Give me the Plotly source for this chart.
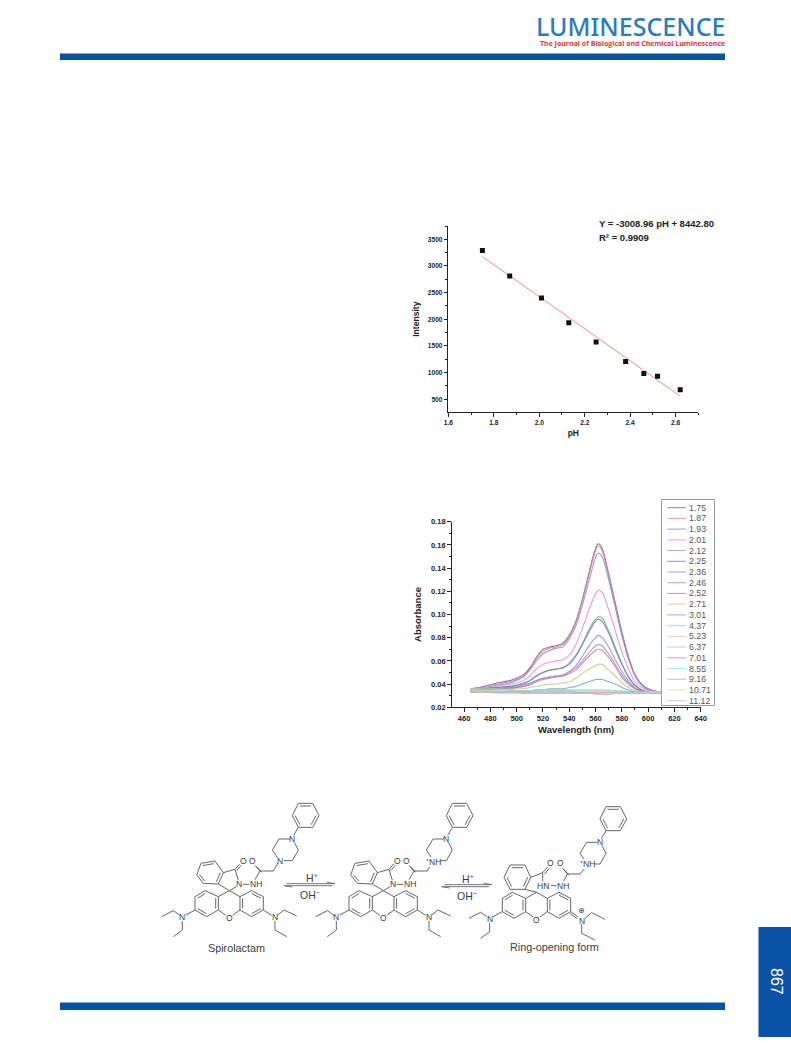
import plotly.graph_objects as go

W_PAGE, H_PAGE = 791, 1043

# ---------- calibration data ----------
ph = [1.75, 1.87, 2.01, 2.13, 2.25, 2.38, 2.46, 2.52, 2.62]
intensity = [3290, 2810, 2400, 1935, 1575, 1210, 985, 930, 680]
fit_ph = [1.75, 2.62]
fit_intensity = [3177, 559]

# ---------- absorption spectra ----------
wavelength = [465, 475, 485, 495, 500, 505, 510, 515, 520, 525, 530, 535, 540, 545, 550, 555, 560, 562, 565, 570, 575, 580, 585, 590, 595, 600, 610, 625]
a_175 = [.036,.038,.041,.043,.045,.048,.054,.063,.070,.072,.073,.075,.082,.094,.113,.136,.157,.161,.157,.135,.110,.085,.064,.048,.040,.036,.033,.032]
a_187 = [.035,.038,.040,.042,.044,.047,.053,.062,.068,.071,.072,.074,.081,.093,.112,.134,.155,.159,.155,.134,.109,.084,.063,.048,.040,.036,.033,.032]
a_193 = [.034,.037,.039,.041,.043,.046,.052,.060,.066,.069,.071,.072,.079,.090,.108,.129,.149,.153,.150,.130,.106,.082,.062,.047,.039,.035,.033,.032]
a_201 = [.034,.036,.038,.040,.041,.043,.047,.053,.057,.059,.060,.061,.065,.074,.088,.104,.118,.121,.119,.104,.086,.068,.053,.042,.037,.034,.032,.032]
a_212 = [.034,.036,.037,.038,.039,.041,.043,.047,.050,.052,.053,.054,.058,.065,.075,.087,.096,.098,.097,.086,.072,.058,.047,.039,.035,.033,.032,.032]
a_225 = [.035,.036,.037,.038,.039,.040,.043,.047,.050,.052,.053,.054,.057,.064,.074,.085,.094,.096,.094,.084,.070,.057,.046,.039,.035,.033,.032,.032]
a_236 = [.033,.035,.036,.037,.038,.039,.041,.043,.045,.046,.047,.048,.051,.056,.064,.073,.080,.082,.080,.072,.061,.051,.043,.037,.034,.033,.032,.032]
a_246 = [.034,.035,.036,.037,.037,.038,.040,.043,.045,.046,.047,.047,.050,.054,.060,.067,.073,.074,.073,.066,.057,.048,.041,.036,.034,.033,.032,.032]
a_252 = [.034,.035,.036,.036,.037,.038,.039,.042,.044,.045,.046,.047,.049,.052,.058,.064,.069,.070,.069,.063,.055,.046,.040,.036,.034,.033,.032,.032]
a_271 = [.035,.035,.035,.035,.036,.036,.037,.038,.039,.040,.040,.041,.042,.045,.049,.053,.056,.057,.057,.052,.047,.041,.037,.034,.033,.032,.032,.032]
a_301 = [.033,.033,.033,.034,.034,.034,.034,.035,.035,.036,.036,.036,.037,.038,.040,.042,.044,.044,.044,.042,.040,.037,.035,.033,.033,.032,.032,.032]
a_437 = [.034,.034,.034,.034,.034,.034,.034,.035,.035,.035,.035,.035,.035,.035,.035,.035,.035,.035,.035,.035,.034,.034,.034,.034,.033,.033,.033,.032]
a_523 = [.036,.035,.034,.033,.033,.033,.033,.033,.033,.033,.033,.033,.033,.033,.032,.032,.031,.031,.031,.031,.032,.032,.032,.032,.033,.033,.032,.032]
a_637 = [.036,.036,.036,.035,.034,.034,.034,.034,.035,.035,.035,.035,.034,.034,.034,.034,.034,.034,.034,.034,.034,.034,.033,.033,.033,.033,.033,.032]
a_701 = [.035,.034,.033,.033,.033,.033,.033,.033,.034,.034,.034,.034,.034,.033,.033,.033,.033,.033,.033,.033,.033,.033,.033,.033,.033,.033,.032,.032]
a_855 = [.034,.034,.034,.033,.033,.033,.033,.033,.034,.034,.034,.034,.034,.034,.034,.034,.034,.034,.034,.034,.034,.033,.033,.033,.033,.033,.033,.032]
a_916 = [.033,.033,.033,.033,.033,.033,.033,.033,.033,.033,.033,.033,.032,.032,.032,.032,.032,.032,.032,.032,.032,.032,.032,.032,.032,.032,.032,.032]
a_1071 = [.035,.033,.032,.032,.032,.032,.032,.032,.032,.032,.032,.032,.032,.032,.032,.032,.032,.032,.032,.032,.032,.032,.032,.032,.032,.033,.033,.032]
a_1112 = [.033,.033,.033,.033,.033,.032,.032,.032,.032,.032,.032,.032,.032,.032,.032,.032,.032,.032,.031,.031,.032,.032,.032,.032,.032,.032,.032,.032]
ph_labels = ["1.75","1.87","1.93","2.01","2.12","2.25","2.36","2.46","2.52","2.71","3.01","4.37","5.23","6.37","7.01","8.55","9.16","10.71","11.12"]
spectra = [a_175,a_187,a_193,a_201,a_212,a_225,a_236,a_246,a_252,a_271,a_301,a_437,a_523,a_637,a_701,a_855,a_916,a_1071,a_1112]
spec_colors = ["#6d6478","#e88484","#7f86e8","#ee84e0","#72b084","#6f80a8","#9a84f0","#b084c8","#c08484","#c8c888","#7ba0c8","#90d8e0","#e8c0a0","#90e0b0","#e08098","#a0e8e0","#b0a8d8","#e0e0a0","#c0b8d8"]

BLUE = "#0a52a5"
INK = "#222222"
SANS = "Liberation Sans"

X = lambda p: p / W_PAGE
Y = lambda p: 1 - p / H_PAGE
# structure sketch coordinates are in a 3x grid anchored at (140, 790)
ZX = lambda z: X(140 + z / 3)
ZY = lambda z: Y(790 + z / 3)

shapes, notes = [], []

def rect(x0, y0, x1, y1, color, line=None):
    shapes.append(dict(type="rect", xref="paper", yref="paper", x0=X(x0), x1=X(x1), y0=Y(y1), y1=Y(y0),
                       fillcolor=color, line=dict(color=line or color, width=1 if line else 0), layer="above"))

def note(x, y, text, size=9, color="#444444", weight=400, family=SANS, xanchor="center", angle=0, bg=None, height=None):
    d = dict(xref="paper", yref="paper", x=X(x), y=Y(y), text=text, showarrow=False, xanchor=xanchor,
             yanchor="middle", textangle=angle, borderpad=0, borderwidth=0,
             font=dict(family=family, size=size, color=color, weight=weight))
    if bg:
        d["bgcolor"] = bg
    if height:
        d["height"] = height
    notes.append(d)

# ---------- page furniture ----------
rect(60, 53.5, 725, 60, BLUE)
rect(60, 1002.5, 725, 1010, BLUE)
rect(758.5, 927, 791, 1037, BLUE)
note(777, 981, "867", size=16, color="white", angle=90)
note(725, 26, "LUMINESCENCE", size=25, color="#2a7bbf", family="Noto Sans", xanchor="right", weight=500, height=24)
note(725, 44, "The Journal of Biological and Chemical Luminescence", size=7.0, color="#e2383a", weight=700, family="Open Sans", xanchor="right")

# ---------- chemistry ----------
def seg(path, *pts):
    path.append("M" + " L".join(f"{ZX(x):.5f},{ZY(y):.5f}" for x, y in pts))

def ring(path, verts, doubles, shift=(0, 0)):
    pts = [(x + shift[0], y + shift[1]) for x, y in verts]
    seg(path, *pts, pts[0])
    cx = sum(p[0] for p in pts) / len(pts)
    cy = sum(p[1] for p in pts) / len(pts)
    for i in doubles:
        a, b = pts[i], pts[(i + 1) % len(pts)]
        f = 0.78
        seg(path, (cx + (a[0] - cx) * f, cy + (a[1] - cy) * f), (cx + (b[0] - cx) * f, cy + (b[1] - cy) * f))

def dbl(path, a, b, off=(5, 4)):
    seg(path, a, b)
    seg(path, (a[0] + off[0], a[1] + off[1]), (b[0] + off[0], b[1] + off[1]))

phenyl = [(475,40),(518,40),(537,77),(518,112),(475,112),(457,77)]
benzo = [(183,220),(225,213),(250,248),(235,282),(190,280),(170,255)]
ring_l = [(195,302),(165,320),(165,360),(200,380),(235,360),(235,320)]
ring_r = [(335,302),(370,320),(370,360),(335,380),(300,360),(300,320)]

def upper(p, s):
    sh = lambda pts: [(x + s[0], y + s[1]) for x, y in pts]
    ring(p, phenyl, [0, 2, 4], s)
    seg(p, *sh([(475,112),(461,136)]))
    seg(p, *sh([(450,147),(417,147),(397,180),(413,204)]))
    seg(p, *sh([(463,157),(475,180),(457,212),(431,212)]))

def left_amine(p, s, q=None):
    sh = lambda pts: [(x + s[0], y + s[1]) for x, y in pts]
    seg(p, *sh([(165,360),(137,375)]))
    seg(p, *sh([(119,375),(100,362),(65,380)]))
    seg(p, *sh([(127,393),(127,420),(100,440)]))

def xanthene(p, s):
    sh = lambda pts: [(x + s[0], y + s[1]) for x, y in pts]
    ring(p, ring_l, [0, 2, 4], s)
    ring(p, ring_r, [0, 2, 4], s)
    seg(p, *sh([(235,320),(268,302),(300,320)]))
    seg(p, *sh([(235,360),(258,376)]))
    seg(p, *sh([(278,376),(300,360)]))

def closed_form(s):
    p = []
    sh = lambda pts: [(x + s[0], y + s[1]) for x, y in pts]
    upper(p, s)
    xanthene(p, s)
    left_amine(p, s)
    ring(p, benzo, [0, 2, 4], s)
    seg(p, *sh([(413,220),(400,243),(360,243),(345,269)]))
    dbl(p, *sh([(360,243),(345,226)]))
    seg(p, *sh([(308,283),(328,283)]))
    seg(p, *sh([(250,248),(285,238),(295,271)]))
    seg(p, *sh([(289,290),(268,302),(235,282)]))
    dbl(p, *sh([(285,238),(299,222)]), off=(5, 4))
    seg(p, *sh([(370,360),(395,376)]))
    seg(p, *sh([(413,375),(432,360),(470,378)]))
    seg(p, *sh([(405,393),(405,420),(440,440)]))
    return " ".join(p)

def open_form():
    p = []
    upper(p, (923, 10))
    xanthene(p, (922, 5))
    left_amine(p, (922, 5))
    ring(p, [(1110,225),(1155,225),(1172,262),(1155,298),(1110,298),(1092,262)], [0, 2, 4])
    seg(p, (1155,298), (1190,307))
    seg(p, (1172,262), (1208,248), (1208,274))
    dbl(p, (1208,248), (1224,230), off=(5, 4))
    seg(p, (1233,287), (1250,287))
    seg(p, (1270,274), (1282,252), (1320,252), (1336,233))
    dbl(p, (1282,252), (1267,234), off=(5, 4))
    dbl(p, (1292,365), (1315,381), off=(-3, 5))
    seg(p, (1335,385), (1355,368), (1395,388))
    seg(p, (1325,402), (1325,430), (1365,450))
    return " ".join(p)

for d in (closed_form((0, 0)), closed_form((462, 0)), open_form()):
    shapes.append(dict(type="path", xref="paper", yref="paper", path=d, line=dict(color="#555555", width=0.9), layer="above"))

def arrow(x0, x1, yu, yd):
    p = []
    seg(p, (x0 + 8, yu), (x1, yu), (x1 - 24, yu - 4))
    seg(p, (x1 - 8, yd), (x0, yd), (x0 + 24, yd + 4))
    shapes.append(dict(type="path", xref="paper", yref="paper", path=" ".join(p), line=dict(color="#666666", width=0.9), layer="above"))
arrow(432, 585, 281, 287)
arrow(905, 1055, 284, 290)

def atom(zx, zy, text, size=8.5, bg=None):
    note(140 + zx / 3, 790 + zy / 3, text, size=size, color="#3c3c3c", bg=bg)

for dx in (0, 462):
    atom(457 + dx, 147, "N"); atom(127 + dx, 382, "N"); atom(405 + dx, 382, "N")
    atom(268 + dx, 384, "O"); atom(297 + dx, 283, "N"); atom(347 + dx, 283, "NH")
    atom(338 + dx, 212, "O"); atom(310 + dx, 212, "O")
atom(420, 212, "N")
atom(880, 217, "⁺NH", bg="white")
atom(1380, 157, "N"); atom(1343, 222, "⁺NH", bg="white"); atom(1050, 387, "N"); atom(1190, 389, "O")
atom(1232, 218, "O"); atom(1262, 218, "O"); atom(1210, 287, "HN"); atom(1270, 287, "NH"); atom(1325, 392, "N")
note(140 + 1325 / 3, 790 + 361 / 3, "⊕", size=8, color="#3c3c3c", family="DejaVu Sans")

for zx, zy, t in [(515, 265, "H⁺"), (510, 315, "OH⁻"), (985, 266, "H⁺"), (980, 317, "OH⁻")]:
    atom(zx, zy, t, size=10.5)
atom(290, 473, "Spirolactam", size=10.8)
atom(1243, 470, "Ring-opening form", size=10.8)

# ---------- legend of spectra ----------
rect(661.5, 499.5, 714.5, 705.5, "white", line="#9a9a9a")
LEG_Y0, LEG_STEP = 507.7, 10.72
for i, (lab, col) in enumerate(zip(ph_labels, spec_colors)):
    y = LEG_Y0 + i * LEG_STEP
    shapes.append(dict(type="line", xref="paper", yref="paper", x0=X(667.3), x1=X(686), y0=Y(y), y1=Y(y),
                       line=dict(color=col, width=1), opacity=0.8, layer="above"))
    note(689.3, y, lab, size=8.8, color="#555555", xanchor="left")

# ---------- figure ----------
fig = go.Figure()
fig.add_trace(go.Scatter(x=fit_ph, y=fit_intensity, mode="lines", line=dict(color="#e88e8c", width=1), showlegend=False, name="Linear fit"))
fig.add_trace(go.Scatter(x=ph, y=intensity, mode="markers", marker=dict(symbol="square", size=5, color="#111111"), showlegend=False, name="Intensity"))
for lab, ys, col in zip(ph_labels, spectra, spec_colors):
    fig.add_trace(go.Scatter(x=wavelength, y=ys, mode="lines", name=lab, showlegend=False, xaxis="x2", yaxis="y2", opacity=0.85,
                             line=dict(color=col, width=1.1, shape="spline", smoothing=0.8)))

def axis(domain, rng, dtick, minor, anchor, title, tsize, fsize, standoff, fmt):
    return dict(domain=domain, range=rng, anchor=anchor, dtick=dtick, tick0=rng[0] * 0, showgrid=False, zeroline=False, showline=True,
                automargin=False, tickformat=fmt,
                linecolor=INK, linewidth=1, ticks="outside", ticklen=3.5, tickwidth=1, tickcolor=INK,
                minor=dict(dtick=minor, ticks="outside", ticklen=2, tickwidth=1, tickcolor=INK, showgrid=False),
                tickfont=dict(family=SANS, size=tsize, color=INK, weight=700),
                title=dict(text=title, standoff=standoff, font=dict(family=SANS, size=fsize, color=INK, weight=700)))

fig.update_layout(
    template="none",
    width=W_PAGE, height=H_PAGE, autosize=False,
    margin=dict(l=0, r=0, t=0, b=0, pad=0),
    paper_bgcolor="white", plot_bgcolor="white", showlegend=False,
    xaxis=axis([X(448.3), X(698.4)], [1.6, 2.7], 0.2, 0.1, "y", "pH", 6.6, 8.5, 5, ".1f"),
    yaxis=axis([Y(412.3), Y(226)], [256, 3750], 500, 250, "x", "Intensity", 6.6, 8.6, 6, "d"),
    xaxis2=axis([X(451.7), X(700.7)], [450.6, 640], 20, 10, "y2", "Wavelength (nm)", 7.5, 9.5, 4.5, "d"),
    yaxis2=axis([Y(707.3), Y(521.7)], [0.02, 0.18], 0.02, 0.01, "x2", "Absorbance", 7.5, 9.5, 7.5, ".2f"),
    shapes=shapes,
    annotations=notes + [
        dict(xref="paper", yref="paper", x=X(598.5), y=Y(223), text="Y = -3008.96 pH + 8442.80", showarrow=False, xanchor="left", yanchor="middle",
             borderpad=0, borderwidth=0, font=dict(family=SANS, size=9.5, color=INK, weight=700)),
        dict(xref="paper", yref="paper", x=X(598.5), y=Y(237.5), text="R² = 0.9909", showarrow=False, xanchor="left", yanchor="middle",
             borderpad=0, borderwidth=0, font=dict(family=SANS, size=9.5, color=INK, weight=700)),
    ],
)

fig.write_html("out.html", config={"displayModeBar": False}, post_script="document.body.style.margin='0';")
